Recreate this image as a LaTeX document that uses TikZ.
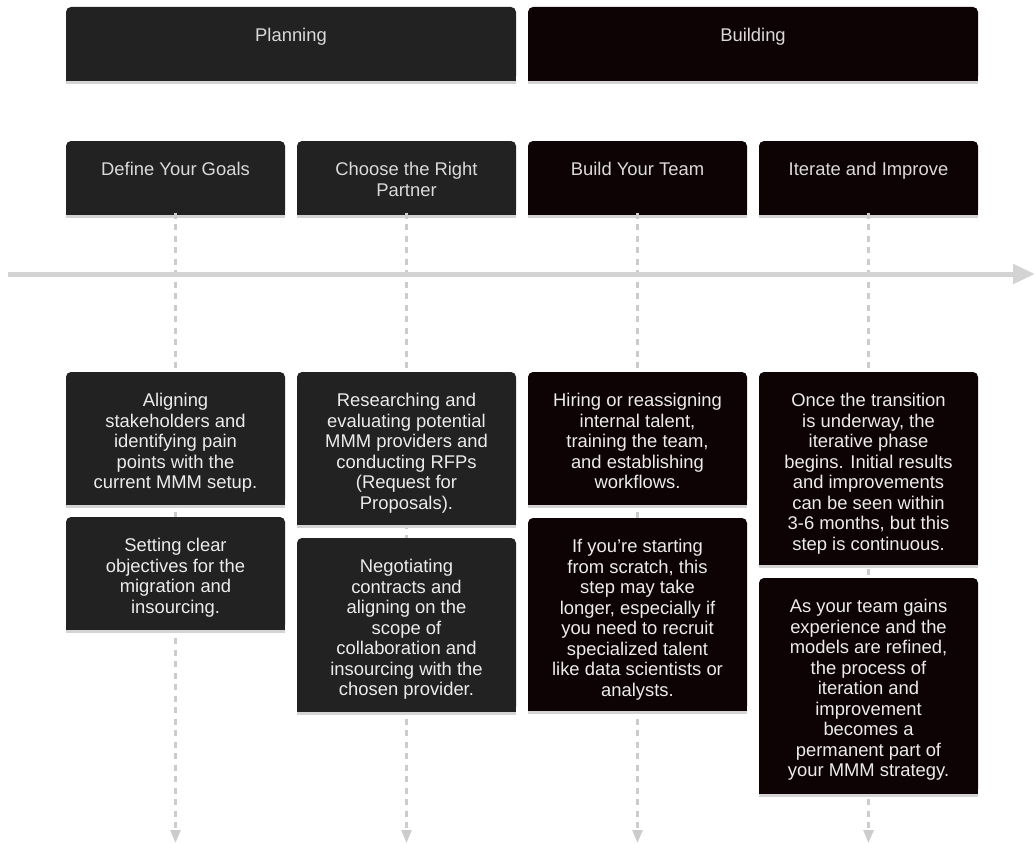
\documentclass[tikz,border=0pt]{standalone}
\usepackage{fontspec}
\setmainfont{Liberation Sans}
\usetikzlibrary{arrows.meta,calc}
\definecolor{plancol}{RGB}{33,34,33}
\definecolor{buildcol}{RGB}{13,3,4}
\definecolor{hdrtxt}{RGB}{218,218,218}
\definecolor{bodytxt}{RGB}{236,236,236}
\definecolor{stripcol}{RGB}{212,212,212}
\definecolor{linecol}{RGB}{204,204,204}
\definecolor{tlcol}{RGB}{211,211,211}
\tikzset{
  boxshape/.style={rectangle, rounded corners=5pt, inner sep=0pt, outer sep=0pt, draw=none},
  txt/.style={align=center, inner sep=0pt, font=\fontsize{18.4}{20.5}\selectfont},
  strip/.style={stripcol, line width=2.5pt},
  dashline/.style={linecol, line width=2.5pt, dash pattern=on 6pt off 5.5pt, -{Triangle[length=13pt,width=10pt]}},
  timeline/.style={tlcol, line width=5pt, -{Triangle[length=22pt,width=19pt]}}
}
% name, x1, y1, x2, y2, fill colour, text colour, text
\newcommand\tlbox[8]{%
  \node[boxshape, fill=#6, minimum width={#4pt-#2pt}, minimum height={#5pt-#3pt}, anchor=north west] (#1) at (#2,#3) {};
  \fill[#6] (#2,{(#3+#5)/2}) rectangle (#4,#5);
  \draw[strip] ([yshift=-1.25pt]#1.south west) -- ([yshift=-1.25pt]#1.south east);
  \node[txt, text=#7, anchor=north] (#1t) at ($(#1.north)+(0,20)$) {\strut #8};
}
\begin{document}
\begin{tikzpicture}[x=1pt,y=-1pt]
\useasboundingbox (0,0) rectangle (1035,843);
\fill[white] (0,0) rectangle (1035,843);

% connectors (behind boxes)
\coordinate (e1) at (175.5,843);
\coordinate (e2) at (406.5,843);
\coordinate (e3) at (637.5,843);
\coordinate (e4) at (868.5,843);
\coordinate (tl0) at (8,274);
\coordinate (tl1) at (1035,274);

% phase headers
\tlbox{plan}{66}{7}{516}{81}{plancol}{hdrtxt}{Planning}
\tlbox{build}{528}{7}{978}{81}{buildcol}{hdrtxt}{Building}

% task headers
\tlbox{t1}{66}{141}{285}{215}{plancol}{hdrtxt}{Define Your Goals}
\tlbox{t2}{297}{141}{516}{215}{plancol}{hdrtxt}{Choose the Right\\Partner}
\tlbox{t3}{528}{141}{747}{215}{buildcol}{hdrtxt}{Build Your Team}
\tlbox{t4}{759}{141}{978}{215}{buildcol}{hdrtxt}{Iterate and Improve}

\begin{scope}
\draw[dashline] ([yshift=2.5pt]t1.south) -- (e1);
\draw[dashline] ([yshift=2.5pt]t2.south) -- (e2);
\draw[dashline] ([yshift=2.5pt]t3.south) -- (e3);
\draw[dashline] ([yshift=2.5pt]t4.south) -- (e4);
\end{scope}
\draw[timeline] (tl0) -- (tl1);

% events
\tlbox{a1}{66}{372}{285}{505}{plancol}{bodytxt}{Aligning\\stakeholders and\\identifying pain\\points with the\\current MMM setup.}
\tlbox{a2}{66}{517}{285}{630}{plancol}{bodytxt}{Setting clear\\objectives for the\\migration and\\insourcing.}

\tlbox{b1}{297}{372}{516}{525}{plancol}{bodytxt}{Researching and\\evaluating potential\\MMM providers and\\conducting RFPs\\(Request for\\Proposals).}
\tlbox{b2}{297}{538}{516}{712}{plancol}{bodytxt}{Negotiating\\contracts and\\aligning on the\\scope of\\collaboration and\\insourcing with the\\chosen provider.}

\tlbox{c1}{528}{372}{747}{505}{buildcol}{bodytxt}{Hiring or reassigning\\internal talent,\\training the team,\\and establishing\\workflows.}
\tlbox{c2}{528}{518}{747}{711}{buildcol}{bodytxt}{If you’re starting\\from scratch, this\\step may take\\longer, especially if\\you need to recruit\\specialized talent\\like data scientists or\\analysts.}

\tlbox{d1}{759}{372}{978}{565}{buildcol}{bodytxt}{Once the transition\\is underway, the\\iterative phase\\begins. Initial results\\and improvements\\can be seen within\\3-6 months, but this\\step is continuous.}
\tlbox{d2}{759}{578}{978}{794}{buildcol}{bodytxt}{As your team gains\\experience and the\\models are refined,\\the process of\\iteration and\\improvement\\becomes a\\permanent part of\\your MMM strategy.}
\end{tikzpicture}
\end{document}
